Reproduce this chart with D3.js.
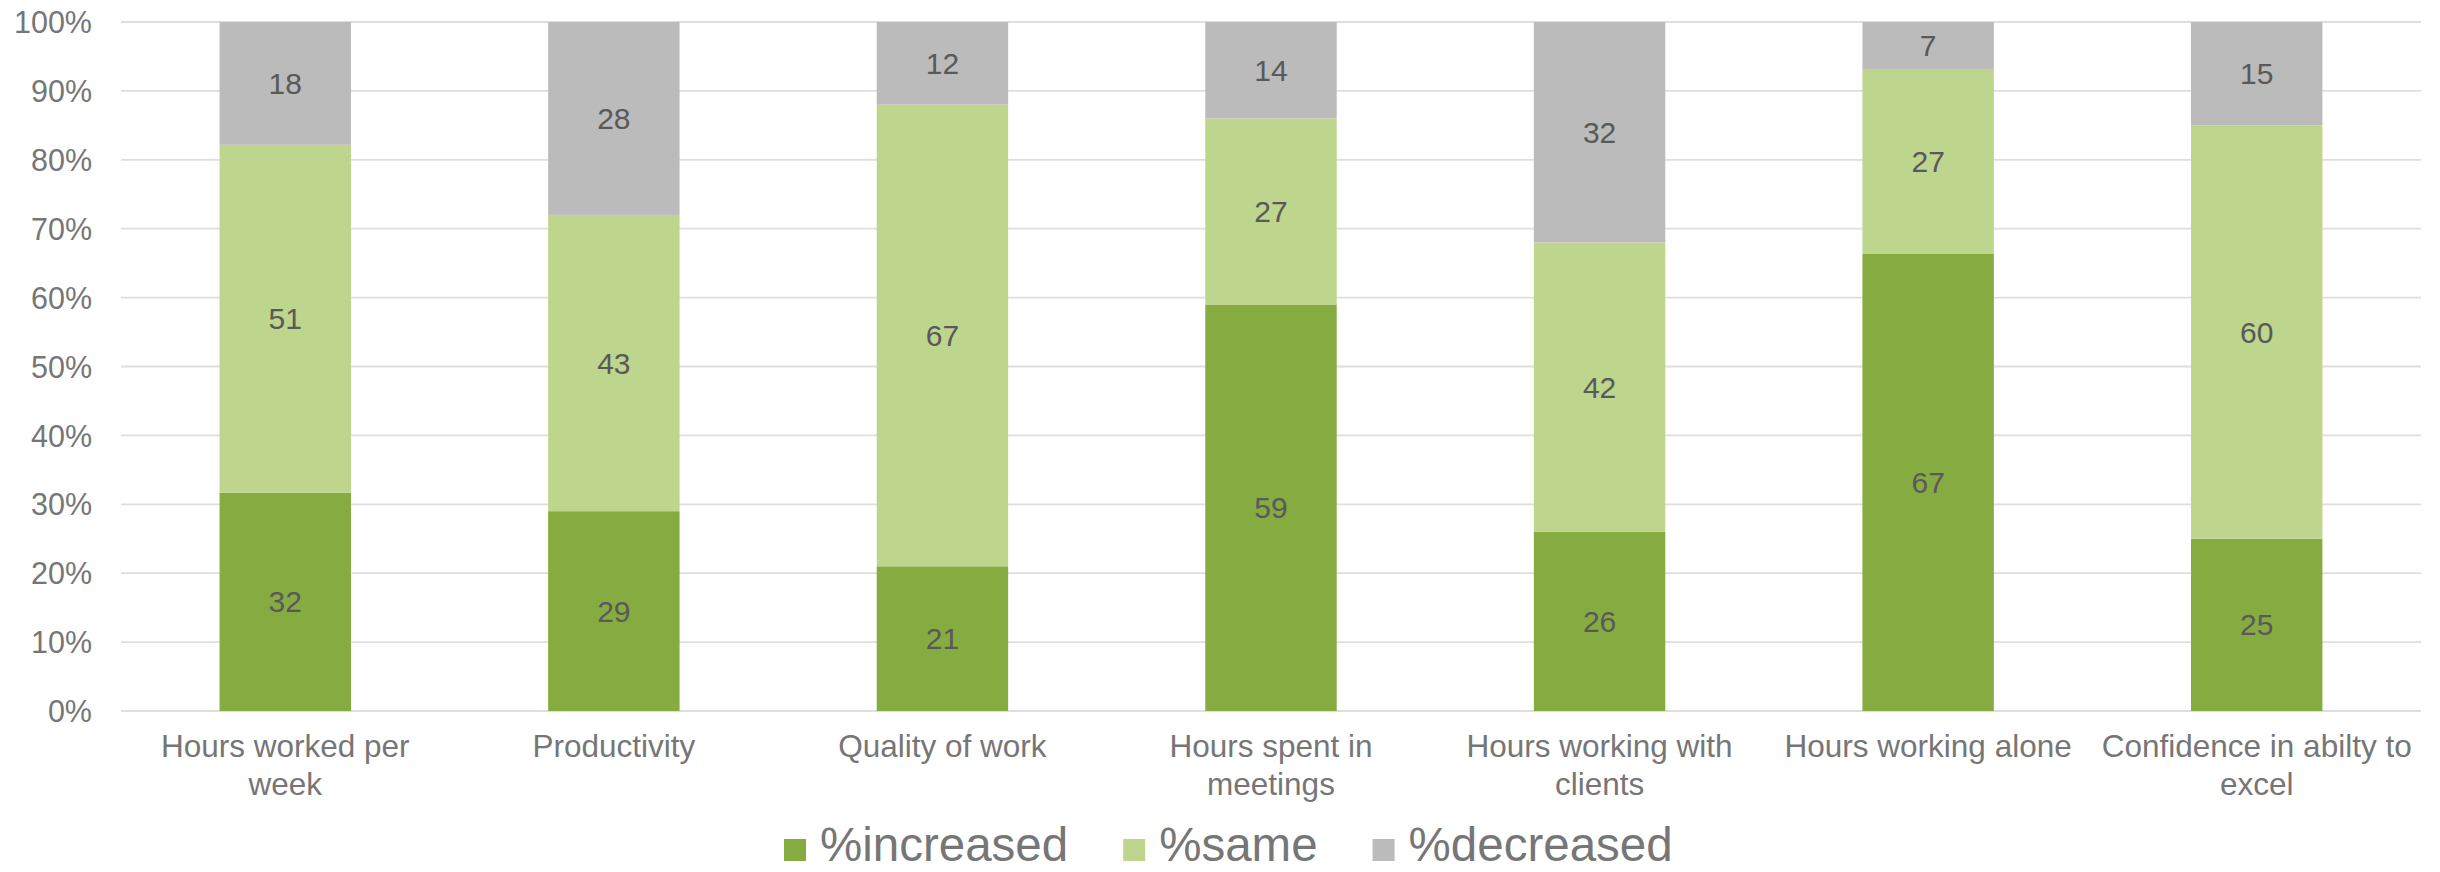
<!DOCTYPE html>
<html>
<head>
<meta charset="utf-8">
<script src="https://cdn.jsdelivr.net/npm/d3@7/dist/d3.min.js"></script>
<style>
  html, body { margin: 0; padding: 0; background: #fff; }
  svg { display: block; font-family: "Liberation Sans", Arial, sans-serif; }
</style>
</head>
<body>
<svg id="chart" width="2440" height="872"></svg>
<script>
const categories = [
  ["Hours worked per", "week"],
  ["Productivity"],
  ["Quality of work"],
  ["Hours spent in", "meetings"],
  ["Hours working with", "clients"],
  ["Hours working alone"],
  ["Confidence in abilty to", "excel"]
];
const seriesNames = ["%increased", "%same", "%decreased"];
const increased = [32, 29, 21, 59, 26, 67, 25];
const same      = [51, 43, 67, 27, 42, 27, 60];
const decreased = [18, 28, 12, 14, 32, 7, 15];
const yTicks = [0, 0.1, 0.2, 0.3, 0.4, 0.5, 0.6, 0.7, 0.8, 0.9, 1.0];
const colors = ["#86ac41", "#bdd58c", "#bbbbbb"];

const svg = d3.select("#chart");
const plot = { left: 121, right: 2421, top: 22, bottom: 711 };

const idx = d3.range(categories.length);
const x = d3.scaleBand().domain(idx).range([plot.left, plot.right])
  .paddingInner(0.6).paddingOuter(0.3).align(0.5);
const y = d3.scaleLinear().domain([0, 1]).range([plot.bottom, plot.top]);

// gridlines
svg.append("g").selectAll("line").data(yTicks).join("line")
  .attr("x1", plot.left).attr("x2", plot.right)
  .attr("y1", d => y(d)).attr("y2", d => y(d))
  .attr("stroke", "#dedede").attr("stroke-width", 1.8);

// y axis labels
const yAxis = d3.axisLeft(y).tickValues(yTicks).tickFormat(d3.format(".0%")).tickSize(0).tickPadding(0);
const yg = svg.append("g").attr("transform", `translate(92,0)`).call(yAxis);
yg.select(".domain").remove();
yg.selectAll("text").attr("font-size", 30.5).attr("fill", "#767676")
  .attr("font-family", "'Liberation Sans', Arial, sans-serif").attr("dy", "0.35em");

// stacked data (100% normalised)
const stackData = idx.map(i => {
  const v = [increased[i], same[i], decreased[i]];
  const tot = d3.sum(v);
  return { i, s0: v[0] / tot, s1: v[1] / tot, s2: v[2] / tot, v };
});
const layers = d3.stack().keys(["s0", "s1", "s2"])(stackData);

const gBars = svg.append("g");
const gLabels = svg.append("g");
layers.forEach((layer, k) => {
  gBars.append("g").attr("fill", colors[k])
    .selectAll("rect").data(layer).join("rect")
    .attr("x", d => x(d.data.i))
    .attr("width", x.bandwidth())
    .attr("y", d => y(d[1]))
    .attr("height", d => y(d[0]) - y(d[1]));
  gLabels.append("g").selectAll("text").data(layer).join("text")
    .attr("x", d => x(d.data.i) + x.bandwidth() / 2)
    .attr("y", d => (y(d[0]) + y(d[1])) / 2)
    .attr("dy", "0.35em")
    .attr("text-anchor", "middle")
    .attr("font-size", 30)
    .attr("fill", "#595959")
    .text(d => d.data.v[k]);
});

// x labels
const xg = svg.append("g");
idx.forEach(i => {
  const t = xg.append("text")
    .attr("text-anchor", "middle")
    .attr("font-size", 31.5)
    .attr("fill", "#767676");
  categories[i].forEach((line, j) => {
    t.append("tspan")
      .attr("x", x(i) + x.bandwidth() / 2)
      .attr("y", 757 + j * 38)
      .text(line);
  });
});

// legend
const lg = svg.append("g");
let lx = 784;
seriesNames.forEach((name, k) => {
  lg.append("rect").attr("x", lx).attr("y", 839).attr("width", 22).attr("height", 22).attr("fill", colors[k]);
  const t = lg.append("text").attr("x", lx + 36).attr("y", 861)
    .attr("font-size", 47.5).attr("fill", "#767676").text(name);
  lx += 36 + t.node().getComputedTextLength() + 55;
});
</script>
</body>
</html>
